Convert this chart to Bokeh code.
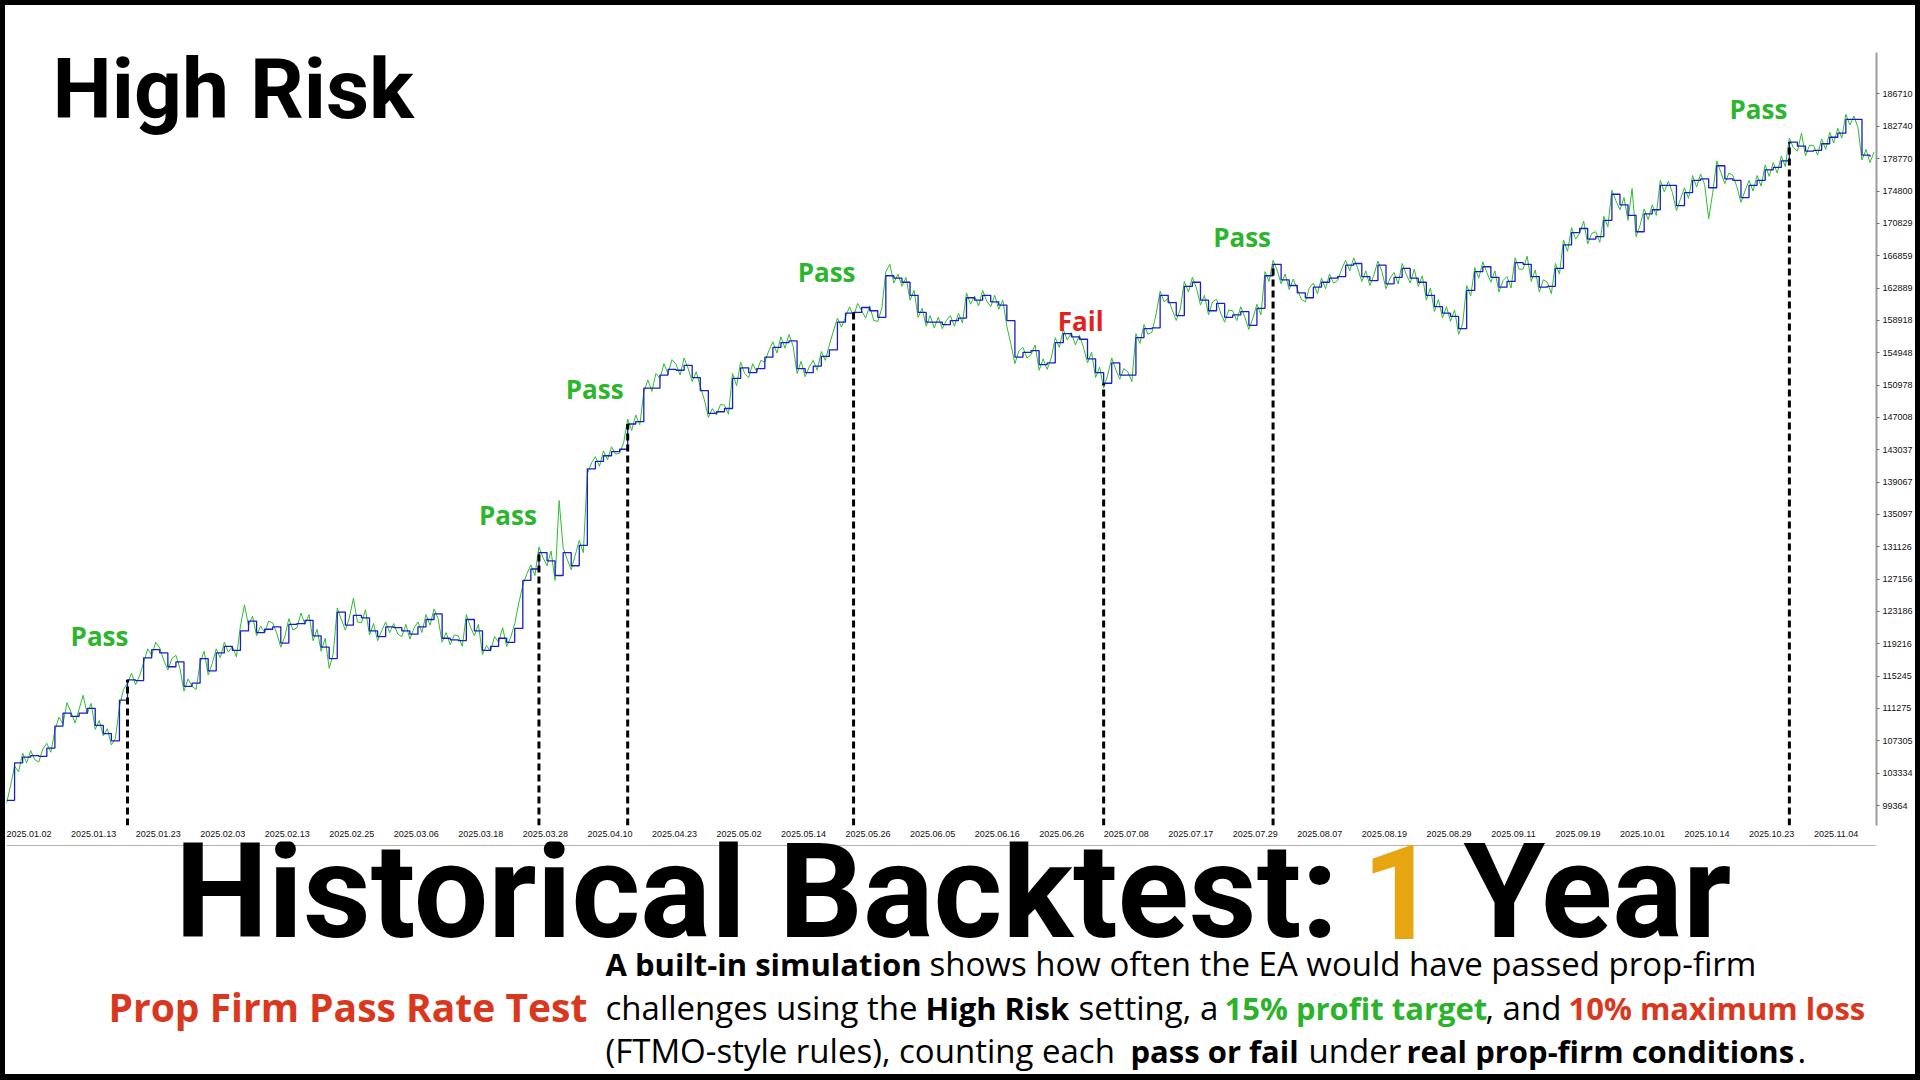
from bokeh.plotting import figure
from bokeh.models import Range1d, LinearAxis, FixedTicker, NumeralTickFormatter, Label, Span
from bokeh.layouts import column
from bokeh.embed import file_html
from bokeh.resources import INLINE

# ---------------------------------------------------------------- data
# Account balance (thousands of USD), one value every 2 bars
balance_k = [
    100.0, 104.6, 105.3, 105.5, 105.4, 106.4, 109.1, 110.7, 110.3, 110.7, 111.3, 109.2, 108.2, 107.3, 112.3, 114.8,
    114.7, 117.5, 118.5, 118.1, 116.4, 117.0, 114.0, 114.4, 117.4, 115.9, 118.1, 118.9, 118.4, 120.8, 122.0, 120.6,
    121.0, 121.3, 119.3, 121.6, 121.7, 122.1, 120.2, 118.8, 117.4, 123.1, 121.5, 122.7, 122.4, 120.8, 120.1, 121.3,
    121.2, 120.8, 120.4, 121.3, 122.2, 122.9, 119.9, 119.7, 119.6, 122.2, 120.8, 118.4, 118.9, 119.9, 119.4, 121.1,
    127.0, 128.4, 130.4, 129.4, 127.6, 130.4, 128.8, 131.3, 140.7, 141.6, 142.3, 142.8, 143.1, 146.2, 146.5, 150.6,
    150.6, 152.2, 152.9, 152.8, 153.4, 151.9, 150.3, 147.5, 147.7, 148.1, 151.8, 153.1, 152.5, 153.0, 154.4, 155.6,
    156.2, 156.4, 153.0, 152.5, 153.3, 154.5, 155.3, 158.7, 159.8, 159.9, 160.5, 160.1, 159.3, 164.4, 164.1, 163.6,
    162.0, 159.9, 158.7, 158.7, 158.4, 158.9, 159.2, 161.7, 161.4, 162.0, 161.2, 160.8, 158.9, 154.4, 155.0, 155.2,
    153.5, 153.7, 156.2, 157.3, 156.9, 156.6, 154.2, 152.5, 151.2, 153.7, 152.2, 152.2, 156.8, 157.9, 158.0, 162.0,
    161.1, 159.5, 163.1, 163.6, 161.4, 160.1, 161.0, 159.3, 159.6, 160.0, 158.3, 160.4, 164.4, 165.8, 163.9, 163.2,
    162.3, 161.7, 163.0, 163.6, 164.1, 164.3, 165.7, 165.9, 164.3, 163.8, 165.7, 163.4, 164.2, 165.3, 164.1, 163.6,
    162.0, 160.6, 159.8, 159.4, 157.9, 162.6, 164.9, 165.5, 164.2, 163.0, 163.7, 166.0, 165.8, 164.3, 163.0, 163.1,
    165.3, 168.2, 169.7, 170.2, 168.9, 169.2, 171.2, 174.4, 173.1, 171.8, 169.8, 172.0, 172.5, 175.5, 175.5, 173.0,
    174.6, 176.1, 176.3, 175.2, 177.9, 176.3, 176.1, 174.0, 175.5, 176.1, 177.4, 177.7, 178.5, 180.8, 180.3, 179.7,
    179.8, 180.6, 181.4, 181.9, 183.6, 183.6, 179.2, 179.0,
]

# Floating equity (thousands of USD), one value per bar
equity_k = [
    99.6, 101.8, 104.2, 103.5, 105.8, 104.6, 106.1, 105.0, 104.7, 106.3, 107.0, 105.9, 108.6, 110.2, 109.4, 112.0,
    110.8, 109.5, 111.2, 112.9, 110.6, 111.9, 108.7, 109.8, 107.9, 108.8, 106.8, 107.6, 111.5, 113.6, 114.4, 115.6,
    114.2, 115.3, 116.9, 118.6, 117.8, 119.4, 118.7, 117.2, 116.0, 117.4, 117.8, 116.2, 113.4, 114.9, 114.0, 113.6,
    116.9, 118.3, 115.4, 116.8, 118.6, 117.5, 119.4, 118.2, 118.9, 117.6, 121.4, 124.0, 121.5, 122.6, 120.2, 121.4,
    120.6, 122.0, 121.8, 120.5, 118.8, 120.1, 122.3, 120.9, 121.2, 123.0, 121.6, 122.8, 119.6, 121.0, 118.3, 119.9,
    116.2, 118.0, 123.6, 122.2, 120.9, 122.4, 124.8, 121.9, 121.8, 123.4, 120.3, 121.7, 119.6, 120.8, 121.9, 120.6,
    121.7, 120.4, 120.1, 121.6, 119.8, 121.1, 121.9, 120.6, 122.8, 121.5, 123.5, 122.3, 119.4, 120.6, 119.1, 120.3,
    120.2, 118.9, 122.8, 121.3, 120.2, 121.6, 117.9, 119.0, 118.3, 120.1, 119.4, 121.2, 118.9, 120.0, 121.7, 124.2,
    126.4, 127.8, 128.9, 127.6, 131.1, 129.8, 128.8, 130.6, 127.0, 136.8, 131.0, 129.6, 128.3, 130.1, 131.9, 130.4,
    140.1, 141.4, 142.2, 141.0, 142.9, 141.8, 143.4, 142.5, 142.6, 143.9, 146.8, 145.4, 147.3, 146.1, 150.1, 151.6,
    150.2, 152.4, 151.8, 153.6, 152.4, 154.1, 153.5, 152.2, 154.3, 153.0, 151.4, 152.6, 150.8, 149.2, 147.0, 148.1,
    147.3, 148.6, 148.5, 147.4, 152.4, 150.9, 153.8, 152.4, 151.9, 153.6, 152.6, 154.0, 153.8, 155.2, 156.3, 154.9,
    156.9, 155.5, 157.2, 155.8, 152.4, 153.9, 152.0, 153.2, 154.0, 152.8, 155.1, 154.0, 155.9, 157.6, 159.2, 158.1,
    159.3, 160.6, 159.4, 161.0, 160.1, 159.2, 160.7, 158.9, 158.8, 160.4, 164.9, 165.8, 163.5, 164.6, 163.1, 164.2,
    161.4, 162.6, 159.3, 160.4, 158.2, 159.5, 158.0, 159.3, 157.9, 158.9, 159.5, 158.2, 159.8, 158.6, 162.3, 160.9,
    161.9, 160.7, 162.6, 161.3, 160.6, 162.0, 160.3, 161.4, 158.2, 156.0, 153.6, 155.2, 155.6, 154.3, 154.7, 155.9,
    152.8, 154.2, 152.9, 154.3, 156.8, 155.6, 157.8, 156.5, 157.4, 155.9, 157.1, 155.6, 153.7, 155.0, 151.9, 153.2,
    150.6, 152.2, 154.3, 152.9, 151.7, 153.0, 152.6, 151.4, 157.3, 156.1, 158.4, 157.2, 157.5, 159.7, 162.5, 161.2,
    161.6, 160.2, 158.9, 160.3, 163.7, 162.4, 164.2, 162.9, 160.8, 162.0, 159.6, 161.2, 161.5, 159.8, 158.7, 160.2,
    160.1, 158.9, 160.6, 159.3, 157.8, 159.2, 160.9, 159.6, 164.9, 163.7, 166.3, 165.1, 163.4, 164.6, 162.7, 164.0,
    162.8, 161.5, 161.2, 162.9, 163.5, 162.2, 164.1, 162.8, 164.6, 163.5, 163.8, 165.2, 166.3, 165.0, 166.6, 165.3,
    163.7, 165.0, 163.2, 164.5, 166.2, 164.9, 162.8, 164.1, 164.8, 163.4, 165.9, 164.6, 163.5, 165.2, 163.1, 164.4,
    161.4, 162.9, 160.0, 161.5, 159.2, 160.6, 158.8, 160.2, 157.2, 158.5, 163.2, 161.9, 165.4, 164.1, 166.1, 164.8,
    163.6, 165.0, 162.4, 163.8, 164.3, 162.9, 166.6, 165.2, 165.2, 166.8, 163.7, 165.1, 162.4, 163.9, 163.6, 162.2,
    165.9, 164.6, 168.8, 167.4, 170.3, 168.9, 169.6, 171.1, 168.3, 169.6, 169.8, 168.5, 171.7, 170.4, 174.9, 173.6,
    172.5, 174.0, 171.2, 175.1, 169.2, 170.6, 172.6, 171.3, 173.1, 171.8, 176.1, 174.7, 176.0, 174.6, 172.4, 173.8,
    175.2, 173.9, 176.7, 175.3, 176.9, 175.6, 171.4, 174.6, 178.5, 177.1, 175.7, 177.0, 176.7, 175.3, 173.4, 174.8,
    176.1, 174.8, 176.7, 175.4, 178.0, 176.6, 178.3, 177.0, 179.1, 177.8, 181.3, 180.1, 179.7, 181.9, 179.1, 180.4,
    180.4, 179.2, 181.2, 179.9, 182.0, 180.7, 182.5, 181.3, 184.2, 182.9, 184.0, 182.6, 178.6, 179.9, 178.3, 179.6,
]

# Time-scale labels, one every 16 bars
date_labels = [
    "2025.01.02", "2025.01.13", "2025.01.23", "2025.02.03", "2025.02.13", "2025.02.25",
    "2025.03.06", "2025.03.18", "2025.03.28", "2025.04.10", "2025.04.23", "2025.05.02",
    "2025.05.14", "2025.05.26", "2025.06.05", "2025.06.16", "2025.06.26", "2025.07.08",
    "2025.07.17", "2025.07.29", "2025.08.07", "2025.08.19", "2025.08.29", "2025.09.11",
    "2025.09.19", "2025.10.01", "2025.10.14", "2025.10.23", "2025.11.04",
]

# Price-scale levels
price_ticks = [
    95394, 99364, 103334, 107305, 111275, 115245, 119216, 123186, 127156, 131126,
    135097, 139067, 143037, 147008, 150978, 154948, 158918, 162889, 166859, 170829,
    174800, 178770, 182740, 186710,
]

# Challenge outcomes: bar where each challenge ended and its result
event_bars = [30, 132, 154, 210, 272, 314, 442]
event_results = ["Pass", "Pass", "Pass", "Pass", "Fail", "Pass", "Pass"]

# ---------------------------------------------------------------- styling
GREEN_EQ = "#2dbf2d"
BLUE_BAL = "#1c1cc8"
PASS_COLOR = "#2db52d"
FAIL_COLOR = "#e3211e"
RED_TXT = "#d9381e"
GREEN_TXT = "#2bb32b"
GOLD = "#e7a512"

BARS_PER_LABEL = 16
LABEL_CENTER_SHIFT = 5.6          # date text is drawn to the right of its bar
label_nudge = [(-28, 44), (-31, 38), (-33, 35), (-27, 40), (-23, 62), (-31, 27), (-31, 33)]

Y_LO, Y_HI = 96911, 191804
X_LO, X_HI = 0, 463.6

CANVAS_W = 1910
BORDER_L, BORDER_R = 1, 39


def white_canvas(fig):
    fig.outline_line_color = None
    fig.background_fill_color = "white"
    fig.border_fill_color = "white"


# ---------------------------------------------------------------- chart
p = figure(
    width=CANVAS_W, height=836,
    x_range=Range1d(X_LO, X_HI), y_range=Range1d(Y_LO, Y_HI),
    x_axis_type=None, y_axis_type=None,
    output_backend="svg", toolbar_location=None,
    min_border_left=BORDER_L, min_border_right=BORDER_R, min_border_top=47, min_border_bottom=16,
)
white_canvas(p)

# price scale on the right
yaxis = LinearAxis(
    ticker=FixedTicker(ticks=price_ticks, minor_ticks=[]),
    formatter=NumeralTickFormatter(format="0"),
    axis_line_color="#9c9c9c", axis_line_width=2,
    major_tick_in=0, major_tick_out=3, major_tick_line_color="#707070",
    minor_tick_line_color=None,
    major_label_standoff=3,
    major_label_text_font="Liberation Sans", major_label_text_font_size="9px",
    major_label_text_color="#111111",
)
p.add_layout(yaxis, "right")

# time scale below
x_ticks = [k * BARS_PER_LABEL + LABEL_CENTER_SHIFT for k in range(len(date_labels))]
xaxis = LinearAxis(
    ticker=FixedTicker(ticks=x_ticks, minor_ticks=[]),
    major_label_overrides={t: lab for t, lab in zip(x_ticks, date_labels)},
    axis_line_color=None, major_tick_line_color=None, minor_tick_line_color=None,
    major_tick_in=0, major_tick_out=0, major_label_standoff=5,
    major_label_text_font="Liberation Sans", major_label_text_font_size="9px",
    major_label_text_color="#111111",
)
p.add_layout(xaxis, "below")

# equity and balance curves
eq_x = list(range(len(equity_k)))
eq_y = [v * 1000 for v in equity_k]
bal_x = [2 * i for i in range(len(balance_k))]
bal_y = [v * 1000 for v in balance_k]

p.line(eq_x, eq_y, line_color=GREEN_EQ, line_width=1.0)
p.step(bal_x, bal_y, mode="after", line_color=BLUE_BAL, line_width=1.3)

# challenge end markers
ev_top = [balance_k[b // 2] * 1000 for b in event_bars]
p.segment(x0=event_bars, y0=[Y_LO] * len(event_bars), x1=event_bars, y1=ev_top,
          line_color="black", line_width=3, line_dash="7 4")

for b, top, res, (dx, dy) in zip(event_bars, ev_top, event_results, label_nudge):
    p.add_layout(Label(
        x=b, y=top, x_offset=dx, y_offset=dy, text=res,
        text_align="center", text_baseline="middle",
        text_font="Open Sans", text_font_style="bold", text_font_size="26px",
        text_color=PASS_COLOR if res == "Pass" else FAIL_COLOR,
    ))

# heading in the upper-left corner of the chart
p.add_layout(Label(
    x=X_LO + 11.4, y=187260, text="High Risk",
    text_align="left", text_baseline="middle",
    text_font="Roboto", text_font_style="bold", text_font_size="84px", text_color="black",
))

# ---------------------------------------------------------------- caption panel
CAP_H = 233
q = figure(
    width=CANVAS_W, height=CAP_H,
    x_range=Range1d(BORDER_L, CANVAS_W - BORDER_R), y_range=Range1d(0, CAP_H),
    x_axis_type=None, y_axis_type=None,
    output_backend="svg", toolbar_location=None,
    min_border_left=BORDER_L, min_border_right=BORDER_R, min_border_top=0, min_border_bottom=0,
)
white_canvas(q)

# bottom edge of the strategy-tester window
q.add_layout(Span(location=CAP_H - 4, dimension="width", line_color="#b4b4b4", line_width=1))


def note(x, y, text, size, color="black", bold=False, align="left", font="Open Sans"):
    q.add_layout(Label(
        x=x, y=y, text=text,
        text_align=align, text_baseline="middle",
        text_font=font, text_font_style="bold" if bold else "normal",
        text_font_size=size, text_color=color,
    ))


# headline
note(1333, 183, "Historical Backtest:", "132px", bold=True, align="right", font="Roboto")
note(1394, 183, "1", "132px", color=GOLD, bold=True, align="center", font="Roboto")
note(1458, 183, "Year", "132px", bold=True, font="Roboto")

# caption block
note(103, 68, "Prop Firm Pass Rate Test", "39px", color=RED_TXT, bold=True)

REG, BOLD = "33px", "31px"
L1, L2, L3 = 111, 67, 24
note(600, L1, "A built-in simulation", BOLD, bold=True)
note(924, L1, "shows how often the EA would have passed prop-firm", REG)

note(600, L2, "challenges using the", REG)
note(920, L2, "High Risk", BOLD, bold=True)
note(1073, L2, "setting, a", REG)
note(1219, L2, "15% profit target", BOLD, color=GREEN_TXT, bold=True)
note(1480, L2, ", and", REG)
note(1563, L2, "10% maximum loss", BOLD, color=RED_TXT, bold=True)

note(600, L3, "(FTMO-style rules), counting each", REG)
note(1125, L3, "pass or fail", BOLD, bold=True)
note(1303, L3, "under", REG)
note(1401, L3, "real prop-firm conditions", BOLD, bold=True)
note(1792, L3, ".", REG)

# white sheet inside a black frame
sheet = column(p, q, styles={"background-color": "white"})
sheet.margin = (5, 5, 6, 5)
root = column(sheet, styles={"background-color": "black"})

open("out.html", "w").write(file_html(root, INLINE))
